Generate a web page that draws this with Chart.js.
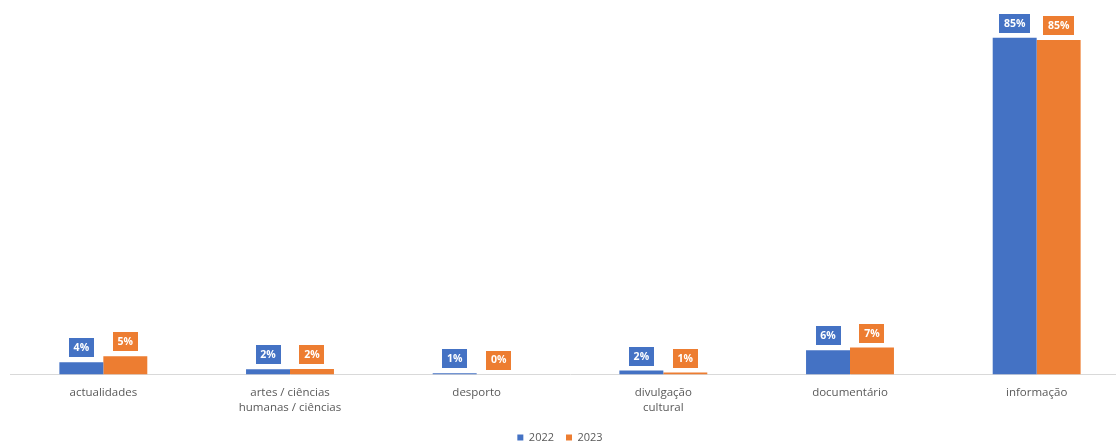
<!DOCTYPE html>
<html>
<head>
<meta charset="utf-8">
<script src="https://cdn.jsdelivr.net/npm/chart.js@4/dist/chart.umd.min.js"></script>
<style>
  html, body { margin: 0; padding: 0; background: #fff; overflow: hidden; }
  #wrap { width: 1130px; height: 455px; }
</style>
</head>
<body>
<div id="wrap"><canvas id="chart" width="1130" height="455"></canvas></div>
<script>
// categories (multi-line ones as arrays)
const categories = [
  'actualidades',
  ['artes / ciências', 'humanas / ciências'],
  'desporto',
  ['divulgação', 'cultural'],
  'documentário',
  'informação'
];

// bar heights (%)
const values2022 = [3.1, 1.3, 0.3, 1.0, 6.1, 85.0];
const values2023 = [4.6, 1.4, 0.0, 0.5, 6.8, 84.4];

// the labels printed above each bar
const labels2022 = ['4%', '2%', '1%', '2%', '6%', '85%'];
const labels2023 = ['5%', '2%', '0%', '1%', '7%', '85%'];

const blue = '#4472c4';
const orange = '#ed7d31';
const textGray = '#595959';
const font = "'Open Sans', 'Liberation Sans', sans-serif";

// boxed value labels above the bars
const boxLabels = {
  id: 'boxLabels',
  afterDatasetsDraw: function (chart) {
    const ctx = chart.ctx;
    ctx.save();
    ctx.font = 'bold 10.5px ' + font;
    ctx.textAlign = 'center';
    ctx.textBaseline = 'middle';
    chart.data.datasets.forEach(function (ds, i) {
      const meta = chart.getDatasetMeta(i);
      meta.data.forEach(function (bar, j) {
        const txt = ds.boxText[j];
        const w = Math.round(ctx.measureText(txt).width) + 10;
        const h = 19;
        const bottom = bar.y - 5;
        ctx.fillStyle = ds.backgroundColor;
        ctx.fillRect(Math.round(bar.x - w / 2), Math.round(bottom - h), w, h);
        ctx.fillStyle = '#ffffff';
        ctx.fillText(txt, bar.x, bottom - h / 2 + 0.5);
      });
    });
    ctx.restore();
  }
};

// nudge the legend to where it sits in the original
const legendShift = {
  id: 'legendShift',
  afterLayout: function (chart) {
    const lg = chart.legend;
    lg.left -= 10; lg.right -= 10;
    lg.top -= 2; lg.bottom -= 2;
  }
};

new Chart(document.getElementById('chart').getContext('2d'), {
  type: 'bar',
  data: {
    labels: categories,
    datasets: [{
      label: '2022',
      data: values2022,
      boxText: labels2022,
      backgroundColor: blue,
      borderWidth: 0
    }, {
      label: '2023',
      data: values2023,
      boxText: labels2023,
      backgroundColor: orange,
      borderWidth: 0
    }]
  },
  options: {
    responsive: false,
    animation: false,
    layout: { padding: { top: 10, left: 10, right: 0, bottom: 0 } },
    datasets: {
      bar: { categoryPercentage: 0.471, barPercentage: 1 }
    },
    scales: {
      x: {
        grid: { display: false, drawTicks: false },
        border: { display: true, color: '#d9d9d9', width: 1 },
        ticks: {
          color: textGray,
          padding: 11,
          maxRotation: 0,
          autoSkip: false,
          font: { family: font, size: 11.5, lineHeight: 1.3 }
        },
        afterFit: function (scale) { scale.height = 47.5; }
      },
      y: {
        display: false,
        min: 0,
        max: 92
      }
    },
    plugins: {
      tooltip: { enabled: false },
      legend: {
        position: 'bottom',
        labels: {
          boxWidth: 6,
          boxHeight: 6,
          padding: 12,
          color: textGray,
          font: { family: font, size: 11 }
        }
      }
    }
  },
  plugins: [boxLabels, legendShift]
});
</script>
</body>
</html>
